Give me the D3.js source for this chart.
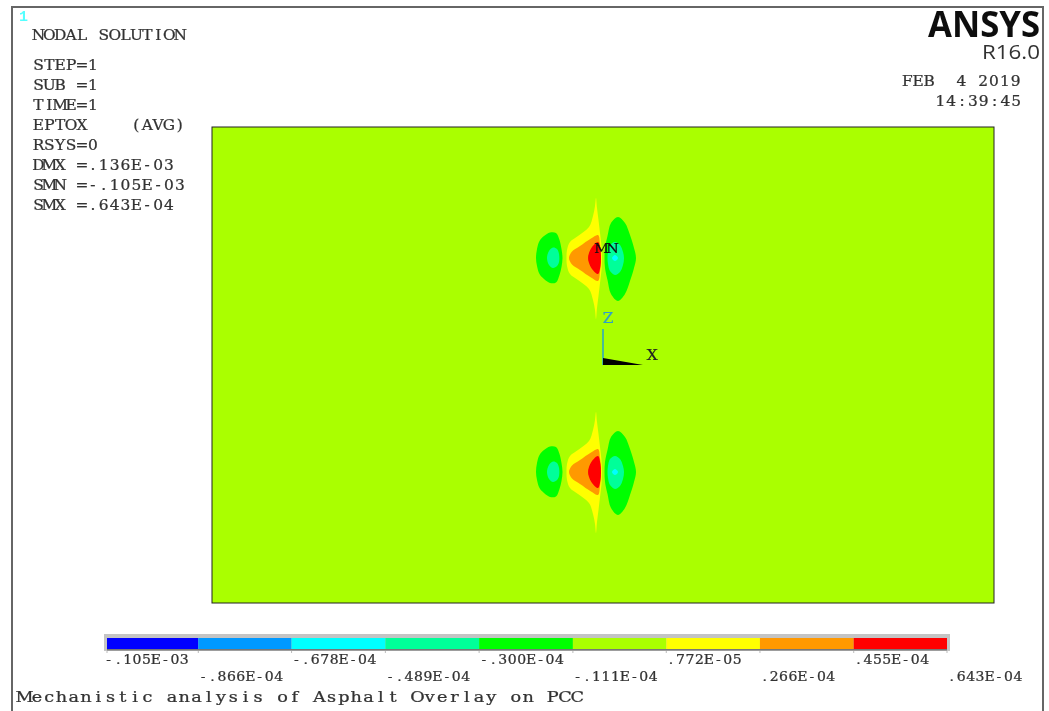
<!DOCTYPE html>
<html><head><meta charset="utf-8">
<script src="https://cdn.jsdelivr.net/npm/d3@7/dist/d3.min.js"></script>
<style>html,body{margin:0;padding:0;background:#fff}svg{display:block}</style>
</head><body><svg id="c" width="1049" height="711"></svg>
<script>
// ---- data ----
const headerLines = ["STEP=1","SUB =1","TIME=1","EPTOX    (AVG)","RSYS=0","DMX =.136E-03","SMN =-.105E-03","SMX =.643E-04"];
const dateLines = ["FEB  4 2019","14:39:45"];
const levelValues = [-1.05e-4,-8.66e-5,-6.78e-5,-4.89e-5,-3.00e-5,-1.11e-5,7.72e-6,2.66e-5,4.55e-5,6.43e-5];
const levelLabels = ["-.105E-03","-.866E-04","-.678E-04","-.489E-04","-.300E-04","-.111E-04",".772E-05",".266E-04",".455E-04",".643E-04"];
const bandColors = ["#0000ff","#0099ff","#00ffff","#00ff99","#00ff00","#aaff00","#ffff00","#ff9900","#ff0000"];
// model extent and the two wheel-load centres
const modelX = [0,782], modelZ = [0,476];
const wheelCentres = [{x:388,z:345},{x:388,z:131}];
const originModel = {x:391,z:238};
// contour outlines: offset from wheel centre, with band index
const yellowBand = [[-4,60],[-3,50],[-1.5,38],[0,25],[1.5,12],[2,0],[1.5,-12],[0,-25],[-1.5,-38],[-3,-50],[-4,-61],[-5,-52],[-7,-42],[-11,-31],[-22,-22],[-30,-16],[-33,-8],[-33.5,0],[-33,8],[-30,16],[-22,22],[-11,31],[-7,42],[-5,52]];
const orangeBand = [[-2,23],[-9,19.5],[-20,12],[-28,6.5],[-31,0],[-28,-6.5],[-20,-12],[-9,-19.5],[-2,-23],[0,-14],[1,0],[0,14]];
const redBand = [[-2,16],[-8,11],[-11,5],[-12,0],[-11,-5],[-8,-11],[-2,-16],[0.5,-8],[1,0],[0.5,8]];
const leftGreen = [[-64,0],[-63,9],[-60.5,17],[-56,22],[-50,25.5],[-44,25],[-40.5,18],[-38.5,9],[-37.5,0],[-38.5,-9],[-40.5,-17],[-44,-24.5],[-50,-25],[-56,-21],[-60.5,-16],[-63,-8]];
const leftSpring = [[-47,10.5],[-43,9],[-41,4],[-41,-4],[-43,-8],[-47,-10],[-51,-7],[-53,0],[-51,7]];
const rightGreen = [[18,41],[25,35],[30,23],[34,10],[36,0],[34,-10],[30,-23],[25,-36],[18,-43],[11,-36],[7.5,-22],[5,-10],[4.5,0],[5,10],[7.5,22],[11,35]];
const rightSpring = [[15,16],[20,13],[23,6],[24,0],[23,-7],[20,-14],[15,-17],[10,-13],[8,-6],[7.5,0],[8,6],[10,13]];
const rightCyan = [[15,3],[18,0],[15,-3],[12,0]];
const contours = [
  {pts:yellowBand,band:6},{pts:orangeBand,band:7},{pts:redBand,band:8},
  {pts:leftGreen,band:4},{pts:leftSpring,band:3},
  {pts:rightGreen,band:4},{pts:rightSpring,band:3},{pts:rightCyan,band:2}
];

// ---- drawing ----
const svg = d3.select("#c");
const defs = svg.append("defs");
defs.append("filter").attr("id","soft").append("feGaussianBlur").attr("stdDeviation",0.55);
defs.append("filter").attr("id","txt").append("feGaussianBlur").attr("stdDeviation",0.3);

const x = d3.scaleLinear().domain(modelX).range([212,994]);
const z = d3.scaleLinear().domain(modelZ).range([603,127]);
const lev = d3.scaleLinear().domain([levelValues[0],levelValues[9]]).range([107,947]);

// fixed-pitch slab text: each glyph is centred in its own cell, widened by sx
function mono(g,str,px,base,cw,fs,fill,sx){
  sx = sx||1.1;
  const xs = Array.from(str,(c,i)=>((px+(i+0.5)*cw)/sx).toFixed(2)).join(" ");
  return g.append("text").text(str).attr("x",xs).attr("y",base)
    .attr("transform",`scale(${sx},1)`)
    .style("white-space","pre").attr("text-anchor","middle")
    .attr("font-family","'DejaVu Serif',serif").attr("font-size",fs)
    .attr("fill",fill||"#333").attr("stroke",fill||"#333").attr("stroke-width",0.25);
}

// frame
svg.append("path").attr("d","M12 711V7H1043V711").attr("fill","none").attr("stroke","#666").attr("stroke-width",2);

// plot
svg.append("rect").attr("x",x(modelX[0])).attr("y",z(modelZ[1])).attr("width",x(modelX[1])-x(modelX[0])).attr("height",z(modelZ[0])-z(modelZ[1]))
  .attr("fill",bandColors[5]).attr("stroke","#222").attr("stroke-width",1);

const line = d3.line().curve(d3.curveCatmullRomClosed.alpha(0.5));
const seg = d3.line();
const plot = svg.append("g").attr("filter","url(#soft)");
wheelCentres.forEach(c=>{
  plot.selectAll(null).data(contours).join("path")
    .attr("d",d=>line(d.pts.map(p=>[x(c.x+p[0]),z(c.z+p[1])])))
    .attr("fill",d=>bandColors[d.band]);
});

// triad
const ox=x(originModel.x), oz=z(originModel.z);
const ann = svg.append("g").attr("filter","url(#txt)");
ann.append("path").attr("d",seg([[ox,oz],[ox,oz-36]])).attr("stroke","#1f9fd8").attr("stroke-width",1.4).attr("fill","none");
ann.append("path").attr("d",seg([[ox,oz-7],[x(originModel.x+40),oz],[ox,oz]])).attr("fill","#000");
mono(ann,"Z",ox,323.5,10,14,"#2f9fc8");
mono(ann,"X",x(originModel.x+44),360,10.5,14,"#222");
mono(ann,"MN",596,253,11,13,"#111");

// text block
const t = svg.append("g").attr("filter","url(#txt)");
t.append("text").text("1").attr("x",19).attr("y",21).attr("font-family","'Liberation Mono',monospace").attr("font-weight","bold").attr("font-size",15).attr("fill","#55ffff");
mono(t,"NODAL SOLUTION",33,40,10.9,14);
headerLines.forEach((s,i)=>mono(t,s,33,70+i*20,10.88,14));
mono(t,dateLines[0],902,86,10.82,14);
mono(t,dateLines[1],935,106.5,10.82,14);
t.append("text").text("ANSYS").attr("x",1040).attr("y",37).attr("text-anchor","end")
  .attr("font-family","'Open Sans',sans-serif").attr("font-weight",700).attr("font-size",35)
  .attr("textLength",112).attr("lengthAdjust","spacingAndGlyphs").attr("fill","#111");
t.append("text").text("R16.0").attr("x",1040).attr("y",59).attr("text-anchor","end")
  .attr("font-family","'Open Sans',sans-serif").attr("font-size",19.5)
  .attr("textLength",58).attr("lengthAdjust","spacingAndGlyphs").attr("fill","#333");

// legend
const lg = svg.append("g");
lg.append("rect").attr("x",lev(levelValues[0])-3).attr("y",634).attr("width",lev(levelValues[9])-lev(levelValues[0])+6).attr("height",17).attr("fill","#c4c4c4");
lg.selectAll(null).data(bandColors).join("rect")
  .attr("x",(d,i)=>lev(levelValues[i])).attr("width",(d,i)=>lev(levelValues[i+1])-lev(levelValues[i]))
  .attr("y",638).attr("height",11).attr("fill",d=>d);
lg.append("rect").attr("x",lev(levelValues[0])).attr("y",649).attr("width",lev(levelValues[9])-lev(levelValues[0])).attr("height",1.5).attr("fill","#777");
lg.selectAll(null).data(levelValues).join("line")
  .attr("x1",d=>lev(d)).attr("x2",d=>lev(d)).attr("y1",651).attr("y2",653).attr("stroke","#bbb");
const lt = svg.append("g").attr("filter","url(#txt)");
levelLabels.forEach((s,i)=>mono(lt,s,lev(levelValues[i])-(i===0?3:0),i%2?681:664.5,9.45,12.5,"#333",1.12));
mono(lt,"Mechanistic analysis of Asphalt Overlay on PCC",18.5,702,12.28,14.5,"#333",1.22);
</script></body></html>
